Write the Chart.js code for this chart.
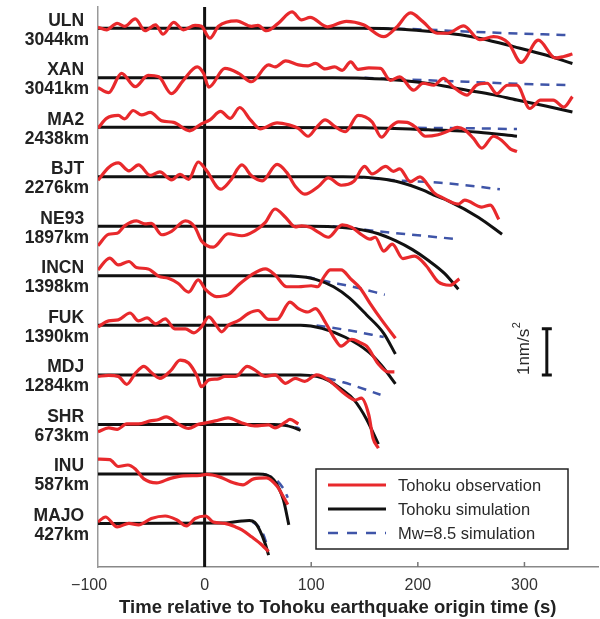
<!DOCTYPE html>
<html>
<head>
<meta charset="utf-8">
<script src="https://cdn.jsdelivr.net/npm/chart.js@4.4.0/dist/chart.umd.min.js"></script>
<style>
  html, body { margin: 0; padding: 0; background: #fff; }
</style>
</head>
<body>
<canvas id="chart" width="600" height="619"></canvas>
<script>
// estações, de cima para baixo
const stations = ['ULN', 'XAN', 'MA2', 'BJT', 'NE93', 'INCN', 'FUK', 'MDJ', 'SHR', 'INU', 'MAJO'];
const distances = ['3044km', '3041km', '2438km', '2276km', '1897km', '1398km', '1390km', '1284km', '673km', '587km', '427km'];
const legendLabels = ['Tohoku observation', 'Tohoku simulation', 'Mw=8.5 simulation'];
const xTicks = [-100, 0, 100, 200, 300];

// [tempo (s), amplitude] por estação
const ulnObs = [[-100,0.02],[-92,-0.03],[-82,0.10],[-75,0.04],[-65,0.19],[-56,-0.05],[-46,0.07],[-39,-0.12],[-29,0.12],[-20,-0.03],[-9,0.06],[-3,0.04],[5,-0.20],[13,0.04],[30,0.15],[44,0.04],[50,0.06],[58,-0.05],[69,0.10],[82,0.33],[91,0.17],[99,0.22],[115,0.03],[133,0.14],[149,0.07],[168,-0.17],[180,0.02],[193,0.31],[205,0.13],[218,-0.10],[228,-0.10],[243,0.05],[258,-0.23],[271,-0.17],[285,-0.30],[297,-0.69],[313,-0.24],[329,-0.60],[337,-0.57],[345,-0.52]];
const ulnSim = [[-100,0],[150,0],[185,-0.02],[215,-0.07],[240,-0.13],[260,-0.21],[290,-0.37],[320,-0.54],[345,-0.71]];
const ulnMw85 = [[150,0],[200,-0.02],[250,-0.07],[300,-0.11],[345,-0.14]];

const xanObs = [[-100,-0.20],[-90,-0.30],[-78,0.09],[-65,-0.18],[-53,0.05],[-43,0.02],[-31,-0.32],[-20,-0.05],[-7,0.22],[-1,0.09],[4,-0.19],[19,0.19],[32,0.09],[44,-0.08],[60,0.26],[66,0.22],[76,0.34],[88,0.26],[97,0.24],[104,0.29],[113,0.18],[122,0.22],[129,0.15],[137,0.32],[144,0.17],[154,0.20],[165,0.19],[174,-0.05],[183,0.02],[196,-0.25],[205,-0.11],[215,-0.15],[224,-0.01],[233,-0.18],[246,-0.35],[255,-0.15],[265,-0.11],[274,-0.32],[284,-0.15],[293,-0.15],[305,-0.62],[315,-0.45],[327,-0.45],[337,-0.59],[345,-0.38]];
const xanSim = [[-100,0],[120,0],[150,-0.01],[183,-0.05],[215,-0.13],[246,-0.25],[270,-0.34],[293,-0.45],[320,-0.57],[345,-0.69]];
const xanMw85 = [[150,0],[183,-0.03],[246,-0.08],[293,-0.12],[345,-0.15]];

const ma2Obs = [[-100,-0.02],[-92,0.18],[-81,0.24],[-75,0.17],[-67,0.34],[-59,0.25],[-51,0.30],[-40,0.13],[-29,0.10],[-14,-0.07],[-3,0.07],[5,0.15],[15,0.32],[24,0.18],[33,0.40],[43,0.15],[52,-0.03],[68,0.09],[79,0.05],[88,-0.02],[97,-0.18],[105,0.0],[113,0.15],[122,0.02],[132,-0.09],[144,0.24],[157,0.11],[166,-0.20],[174,0.0],[182,0.11],[190,0.10],[198,0.0],[207,-0.18],[219,-0.15],[229,-0.07],[237,0.0],[244,-0.05],[252,-0.22],[260,-0.42],[271,-0.18],[279,-0.27],[287,-0.44],[293,-0.49]];
const ma2Sim = [[-100,0],[150,-0.01],[210,-0.05],[257,-0.10],[293,-0.18]];
const ma2Mw85 = [[200,-0.01],[250,-0.02],[293,-0.035]];

const bjtObs = [[-100,-0.07],[-90,0.19],[-81,0.28],[-71,0.12],[-62,0.24],[-51,0.03],[-42,0.10],[-31,-0.06],[-23,0.05],[-15,-0.05],[-6,0.30],[1,0.15],[15,-0.25],[24,-0.08],[35,0.24],[44,0.02],[54,-0.08],[68,0.25],[77,0.09],[85,-0.19],[94,-0.35],[107,-0.19],[116,-0.02],[128,-0.17],[140,-0.09],[150,0.21],[157,0.06],[170,0.21],[177,0.11],[183,0.16],[193,-0.10],[202,0.0],[210,-0.18],[215,-0.32],[223,-0.42],[238,-0.55],[244,-0.47],[260,-0.61],[268,-0.57],[276,-0.86]];
const bjtSim = [[-100,0],[130,0],[150,-0.01],[165,-0.04],[183,-0.11],[205,-0.27],[215,-0.37],[229,-0.49],[257,-0.82],[279,-1.16]];
const bjtMw85 = [[140,0],[157,-0.03],[180,-0.07],[221,-0.12],[277,-0.25]];

const ne93Obs = [[-100,-0.39],[-90,-0.16],[-82,-0.14],[-75,0.01],[-64,0.11],[-56,0.05],[-50,0.06],[-40,-0.17],[-31,-0.10],[-18,0.11],[-9,-0.02],[-3,-0.29],[8,-0.42],[22,-0.15],[35,-0.19],[47,-0.09],[57,0.08],[66,0.35],[76,0.18],[85,-0.01],[91,0.01],[99,-0.02],[107,-0.12],[116,-0.22],[129,0.03],[138,-0.02],[148,-0.18],[155,-0.26],[160,-0.22],[168,-0.50],[176,-0.36],[186,-0.65],[197,-0.60],[208,-0.80],[219,-1.12],[230,-1.19],[239,-1.06]];
const ne93Sim = [[-100,0],[100,0],[120,-0.01],[141,-0.05],[163,-0.15],[179,-0.29],[195,-0.47],[210,-0.69],[225,-0.95],[238,-1.27]];
const ne93Mw85 = [[120,0],[140,-0.04],[163,-0.10],[200,-0.18],[237,-0.26]];

const incnObs = [[-100,0.12],[-89,0.36],[-81,0.22],[-71,0.29],[-64,0.17],[-53,0.14],[-43,-0.01],[-34,-0.05],[-25,-0.15],[-15,-0.33],[-6,-0.08],[1,-0.28],[11,-0.42],[22,-0.38],[32,-0.18],[44,0.02],[57,0.14],[66,0.02],[77,-0.22],[88,-0.22],[100,-0.20],[106,-0.22],[112,-0.02],[118,0.12],[128,0.12],[137,-0.06],[146,-0.25],[155,-0.55],[166,-0.89],[179,-1.26]];
const incnSim = [[-100,0],[60,0],[85,-0.01],[104,-0.07],[121,-0.22],[136,-0.45],[152,-0.79],[168,-1.16],[179,-1.58]];
const incnMw85 = [[80,0],[97,-0.03],[114,-0.11],[141,-0.23],[169,-0.38]];

const fukObs = [[-100,-0.03],[-90,0.09],[-81,0.11],[-70,0.25],[-62,0.09],[-54,0.15],[-46,0.03],[-37,0.13],[-28,-0.07],[-18,-0.07],[-10,-0.15],[-3,-0.03],[4,0.17],[10,0.03],[16,-0.13],[22,0.0],[32,0.10],[41,0.24],[50,0.30],[60,0.12],[68,0.12],[80,0.47],[88,0.34],[97,0.27],[104,0.34],[113,0.07],[122,-0.27],[128,-0.42],[138,-0.28],[146,-0.35],[152,-0.42],[163,-0.78],[172,-0.94],[178,-0.94]];
const fukSim = [[-100,0],[90,0],[110,-0.06],[132,-0.24],[154,-0.54],[166,-0.81],[179,-1.18]];
const fukMw85 = [[105,0],[135,-0.10],[168,-0.235]];

const mdjObs = [[-100,-0.03],[-90,-0.01],[-81,-0.03],[-73,-0.19],[-65,0.03],[-57,0.17],[-50,0.05],[-42,-0.07],[-32,0.08],[-23,0.30],[-15,0.24],[-7,-0.03],[-3,-0.24],[4,-0.10],[13,-0.08],[19,-0.03],[29,-0.03],[40,0.17],[47,0.10],[57,-0.03],[66,0.0],[76,-0.17],[85,-0.07],[94,-0.13],[105,0.0],[116,-0.10],[129,-0.34],[135,-0.44],[141,-0.51],[147,-0.47],[154,-0.81],[158,-1.28],[163,-1.48]];
const mdjSim = [[-100,0],[90,0],[105,-0.03],[116,-0.11],[129,-0.30],[140,-0.50],[152,-0.90],[163,-1.40]];
const mdjMw85 = [[100,0],[130,-0.15],[165,-0.40]];

const shrObs = [[-100,-0.15],[-90,-0.07],[-82,-0.10],[-73,0.01],[-62,0.01],[-51,0.07],[-43,0.10],[-36,0.15],[-25,0.01],[-15,-0.08],[-6,0.0],[1,0.03],[10,0.07],[22,0.13],[35,0.03],[47,-0.03],[60,-0.01],[66,-0.07],[76,0.05],[80,0.10],[88,0.01]];
const shrSim = [[-100,0],[65,0],[75,-0.02],[83,-0.06],[90,-0.12]];
const shrMw85 = [[70,0],[80,-0.03],[89,-0.08]];

const inuObs = [[-100,0.30],[-89,0.29],[-81,0.15],[-72,0.18],[-65,0.10],[-57,-0.10],[-45,-0.18],[-32,-0.09],[-20,-0.04],[-4,-0.03],[2,-0.01],[14,-0.06],[27,-0.18],[36,-0.22],[46,-0.10],[58,-0.08],[68,-0.25],[72,-0.39],[78,-0.62]];
const inuSim = [[-100,0],[50,0],[58,-0.02],[65,-0.12],[70,-0.30],[74,-0.53],[79,-1.03]];
const inuMw85 = [[55,0],[60,-0.04],[67,-0.12],[74,-0.30],[78,-0.48]];

const majoObs = [[-100,0.03],[-93,0.13],[-82,-0.07],[-71,0.0],[-62,-0.03],[-50,0.10],[-37,0.15],[-26,0.07],[-17,-0.05],[-9,0.10],[1,0.15],[8,0.03],[19,0.0],[29,-0.07],[35,-0.13],[44,-0.27],[54,-0.44],[60,-0.57]];
const majoSim = [[-100,0],[20,0.01],[35,0.05],[42,0.06],[47,0.02],[52,-0.15],[57,-0.42],[60,-0.64]];
const majoMw85 = [[45,0.03],[50,-0.05],[55,-0.22],[58,-0.40]];

const obsSeries = [ulnObs, xanObs, ma2Obs, bjtObs, ne93Obs, incnObs, fukObs, mdjObs, shrObs, inuObs, majoObs];
const simSeries = [ulnSim, xanSim, ma2Sim, bjtSim, ne93Sim, incnSim, fukSim, mdjSim, shrSim, inuSim, majoSim];
const mw85Series = [ulnMw85, xanMw85, ma2Mw85, bjtMw85, ne93Mw85, incnMw85, fukMw85, mdjMw85, shrMw85, inuMw85, majoMw85];

// barra de escala 1 nm/s2, em unidades do eixo y
const scaleBarX = 321;
const scaleBarY = [3, 3.93];

const RED = '#e8292c';
const BLACK = '#111111';
const BLUE = '#3f55a8';
const FONT = '"Liberation Sans", Arial, Helvetica, sans-serif';

function toPoints(pairs, offset) {
    return pairs.map(([t, v]) => ({ x: t, y: v + offset }));
}

let datasets = [];
stations.forEach((name, i) => {
    const offset = stations.length - 1 - i;
    datasets.push({ label: name + ' obs', data: toPoints(obsSeries[i], offset), borderColor: RED, borderWidth: 3.2, order: 0 });
    datasets.push({ label: name + ' sim', data: toPoints(simSeries[i], offset), borderColor: BLACK, borderWidth: 3, order: 1 });
    datasets.push({ label: name + ' mw85', data: toPoints(mw85Series[i], offset), borderColor: BLUE, borderWidth: 2.5, borderDash: [9, 7], order: 2 });
});

// Desenha linha do tempo zero, ticks internos, legenda e barra de escala
const decor = {
    id: 'decor',
    beforeDatasetsDraw(chart) {
        const { ctx, chartArea: a, scales: { x } } = chart;
        ctx.save();
        ctx.strokeStyle = BLACK;
        ctx.lineWidth = 3;
        const x0 = x.getPixelForValue(0);
        ctx.beginPath();
        ctx.moveTo(x0, a.top);
        ctx.lineTo(x0, a.bottom);
        ctx.stroke();

        ctx.strokeStyle = '#777';
        ctx.lineWidth = 1.5;
        for (const t of xTicks) {
            if (t <= -100 || t === 0) continue;
            const px = x.getPixelForValue(t);
            ctx.beginPath();
            ctx.moveTo(px, a.bottom);
            ctx.lineTo(px, a.bottom - 5);
            ctx.stroke();
        }
        ctx.restore();
    },
    afterDraw(chart) {
        const { ctx, scales: { x, y } } = chart;
        ctx.save();

        // legenda
        ctx.fillStyle = '#fff';
        ctx.fillRect(316, 469, 252, 80);
        ctx.strokeStyle = '#222';
        ctx.lineWidth = 1.5;
        ctx.strokeRect(316, 469, 252, 80);
        const styles = [
            { c: RED, w: 3.2, d: [] },
            { c: BLACK, w: 3, d: [] },
            { c: BLUE, w: 2.5, d: [10, 9] }
        ];
        legendLabels.forEach((txt, k) => {
            const ly = 485 + k * 24;
            ctx.strokeStyle = styles[k].c;
            ctx.lineWidth = styles[k].w;
            ctx.setLineDash(styles[k].d);
            ctx.beginPath();
            ctx.moveTo(328, ly);
            ctx.lineTo(386, ly);
            ctx.stroke();
            ctx.setLineDash([]);
            ctx.fillStyle = '#2a2a2a';
            ctx.font = '16.5px ' + FONT;
            ctx.textAlign = 'left';
            ctx.textBaseline = 'middle';
            ctx.fillText(txt, 398, ly + 1);
        });

        // barra de escala
        const bx = x.getPixelForValue(scaleBarX);
        const by0 = y.getPixelForValue(scaleBarY[0]);
        const by1 = y.getPixelForValue(scaleBarY[1]);
        ctx.strokeStyle = BLACK;
        ctx.lineWidth = 3;
        ctx.beginPath();
        ctx.moveTo(bx, by0); ctx.lineTo(bx, by1);
        ctx.moveTo(bx - 5, by0); ctx.lineTo(bx + 5, by0);
        ctx.moveTo(bx - 5, by1); ctx.lineTo(bx + 5, by1);
        ctx.stroke();

        ctx.translate(bx - 25, (by0 + by1) / 2 - 3);
        ctx.rotate(-Math.PI / 2);
        ctx.fillStyle = '#2a2a2a';
        ctx.font = '17px ' + FONT;
        ctx.textBaseline = 'middle';
        const main = '1nm/s';
        const wMain = ctx.measureText(main).width;
        ctx.font = '11px ' + FONT;
        const wSup = ctx.measureText('2').width;
        const start = -(wMain + wSup) / 2;
        ctx.font = '17px ' + FONT;
        ctx.textAlign = 'left';
        ctx.fillText(main, start, 2);
        ctx.font = '11px ' + FONT;
        ctx.fillText('2', start + wMain + 0.5, -5);
        ctx.restore();
    }
};

new Chart(document.getElementById('chart'), {
    type: 'line',
    data: { datasets: datasets },
    options: {
        responsive: false,
        animation: false,
        events: [],
        layout: { padding: { top: 7, right: 2, left: 0, bottom: 0 } },
        elements: {
            point: { radius: 0 },
            line: { cubicInterpolationMode: 'monotone', fill: false, borderCapStyle: 'butt', borderJoinStyle: 'round' }
        },
        plugins: {
            legend: { display: false },
            tooltip: { enabled: false }
        },
        scales: {
            x: {
                type: 'linear',
                min: -100,
                max: 369,
                afterBuildTicks: s => { s.ticks = xTicks.map(v => ({ value: v })); },
                afterFit: s => { s.height = 52; s.paddingLeft = 0; s.paddingRight = 0; },
                grid: { display: false, drawTicks: false },
                border: { display: true, color: '#888', width: 1.5 },
                ticks: {
                    padding: 9,
                    color: '#333',
                    font: { family: FONT, size: 16 },
                    maxRotation: 0,
                    autoSkip: false,
                    callback: v => v < 0 ? '\u2212' + Math.abs(v) + '    ' : String(v)
                },
                title: {
                    display: true,
                    text: 'Time relative to Tohoku earthquake origin time (s)    ',
                    color: '#222',
                    font: { family: FONT, size: 18.5, weight: 'bold' },
                    padding: { top: 0, bottom: 0 }
                }
            },
            y: {
                type: 'linear',
                min: -0.88,
                max: 10.43,
                afterBuildTicks: s => { s.ticks = stations.map((_, i) => ({ value: stations.length - 1 - i })); },
                afterFit: s => { s.width = 98; s.paddingTop = 0; s.paddingBottom = 0; },
                grid: { display: false, drawTicks: false },
                border: { display: true, color: '#999', width: 1.5 },
                ticks: {
                    padding: 9,
                    labelOffset: 2,
                    color: '#222',
                    autoSkip: false,
                    font: { family: FONT, size: 17.5, weight: 'bold', lineHeight: 1.08 },
                    callback: v => {
                        const i = stations.length - 1 - Math.round(v);
                        return [stations[i] + ' ', distances[i]];
                    }
                }
            }
        }
    },
    plugins: [decor]
});
</script>
</body>
</html>
